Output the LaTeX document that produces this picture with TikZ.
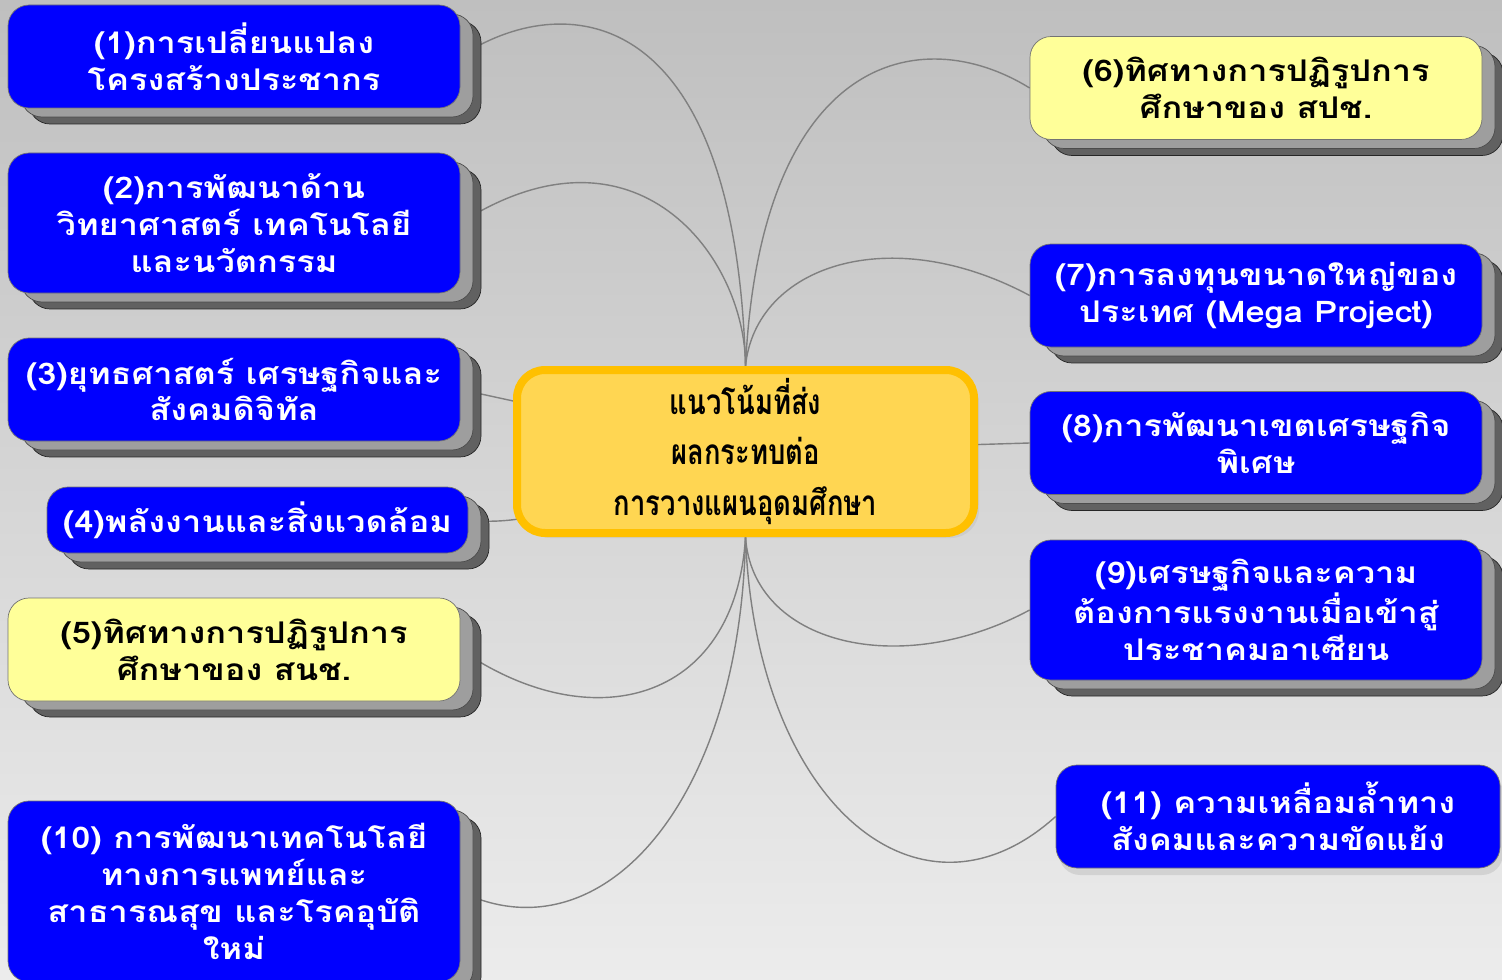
\documentclass[tikz,border=0pt]{standalone}
\usepackage{fontspec}
\newfontfamily\thaifont[Script=Thai, FakeStretch=1.15]{Loma}
\newfontfamily\hubfont[Script=Thai, FakeStretch=0.78]{Loma}
\usetikzlibrary{shadows}
\definecolor{boxblue}{RGB}{0,0,255}
\definecolor{boxyellow}{RGB}{255,255,153}
\definecolor{hubfill}{RGB}{255,214,82}
\definecolor{hubline}{RGB}{255,192,0}
\definecolor{bgtop}{RGB}{191,191,191}
\definecolor{bgbottom}{RGB}{236,236,236}
\pgfdeclarelayer{back}
\pgfdeclarelayer{links}
\pgfsetlayers{back,links,main}
\def\U{0.02cm}
\tikzset{
     stack/.style = { general shadow={shadow xshift=0.42cm, shadow yshift=-0.32cm,
                        fill=black!62, draw=black!85},
                      general shadow={shadow xshift=0.26cm, shadow yshift=-0.18cm,
                        fill=black!38, draw=black!70} },
     topic/.style = { draw=black!55, rounded corners=12pt, align=center,
                      minimum width=452*\U, minimum height=103*\U,
                      font=\thaifont\bfseries\fontsize{17}{21}\selectfont },
  bluebox/.style = { topic, stack, fill=boxblue, text=white },
yellowbox/.style = { topic, stack, fill=boxyellow, text=black },
      hub/.style = { draw=hubline, fill=hubfill, line width=8*\U, rounded corners=16pt,
                     minimum width=457*\U, minimum height=163*\U, align=center,
                     drop shadow={opacity=0.12, shadow xshift=0.1cm, shadow yshift=-0.1cm},
                     font=\hubfont\bfseries\fontsize{20}{29}\selectfont },
     link/.style = { draw=black!50, line width=0.8pt },
}

\begin{document}
\begin{tikzpicture}[x=\U, y=-\U]
  \begin{pgfonlayer}{back}
    \shade[top color=bgtop, bottom color=bgbottom] (0,0) rectangle (1502,980);
  \end{pgfonlayer}
  \useasboundingbox (0,0) rectangle (1502,980);

  % centre
  \node[hub] (c) at (745.5,451.5) {แนวโน้มที่ส่ง\\ผลกระทบต่อ\\การวางแผนอุดมศึกษา};

  % left column
  \node[bluebox] (b1) at (234,56.5) {(1)การเปลี่ยนแปลง\\โครงสร้างประชากร};
  \node[bluebox, minimum height=140*\U] (b2) at (234,223)
    {(2)การพัฒนาด้าน\\วิทยาศาสตร์ เทคโนโลยี\\และนวัตกรรม};
  \node[bluebox] (b3) at (234,389.5) {(3)ยุทธศาสตร์ เศรษฐกิจและ\\สังคมดิจิทัล};
  \node[bluebox, minimum width=421*\U, minimum height=66*\U] (b4) at (257.5,520)
    {(4)พลังงานและสิ่งแวดล้อม};
  \node[yellowbox] (b5) at (234,649.5) {(5)ทิศทางการปฏิรูปการ\\ศึกษาของ สนช.};
  \node[bluebox, minimum height=181*\U] (b10) at (234,891.5)
    {(10) การพัฒนาเทคโนโลยี\\ทางการแพทย์และ\\สาธารณสุข และโรคอุบัติ\\ใหม่};

  % right column
  \node[yellowbox] (b6) at (1256,88) {(6)ทิศทางการปฏิรูปการ\\ศึกษาของ สปช.};
  \node[bluebox] (b7) at (1256,295.5) {(7)การลงทุนขนาดใหญ่ของ\\ประเทศ (Mega Project)};
  \node[bluebox] (b8) at (1256,443) {(8)การพัฒนาเขตเศรษฐกิจ\\พิเศษ};
  \node[bluebox, minimum height=140*\U] (b9) at (1256,610)
    {(9)เศรษฐกิจและความ\\ต้องการแรงงานเมื่อเข้าสู่\\ประชาคมอาเซียน};
  \node[topic, fill=boxblue, text=white, minimum width=444*\U,
        drop shadow={opacity=0.2, shadow xshift=0.06cm, shadow yshift=-0.14cm}]
    (b11) at (1278,816.5) {(11) ความเหลื่อมล้ำทาง\\สังคมและความขัดแย้ง};

  % links
  \begin{pgfonlayer}{links}
    \foreach \n/\p/\q in {b1/{-10.5,-370}/{100,-66.5}, b2/{0,-110}/{175,-112}}
      \draw[link] (c.north) .. controls +(\p) and +(\q) .. (\n.east);
    \foreach \n/\p/\q in {b6/{15,-310}/{-110,-68}, b7/{10,-100}/{-140,-75}}
      \draw[link] (c.north) .. controls +(\p) and +(\q) .. (\n.west);
    \foreach \n/\p/\q in {b5/{-10,167}/{130,90}, b10/{-5,267}/{140,68}}
      \draw[link] (c.south) .. controls +(\p) and +(\q) .. (\n.east);
    \foreach \n/\p/\q in {b9/{7,107}/{-130,70}, b11/{10,267}/{-136,123}}
      \draw[link] (c.south) .. controls +(\p) and +(\q) .. (\n.west);
    \draw[link] (b3.east) -- (c.center);
    \draw[link] (b4.east) .. controls +(100,12) and +(-80,0) .. (c.center);
    \draw[link] (c.center) -- (b8.west);
  \end{pgfonlayer}
\end{tikzpicture}
\end{document}
